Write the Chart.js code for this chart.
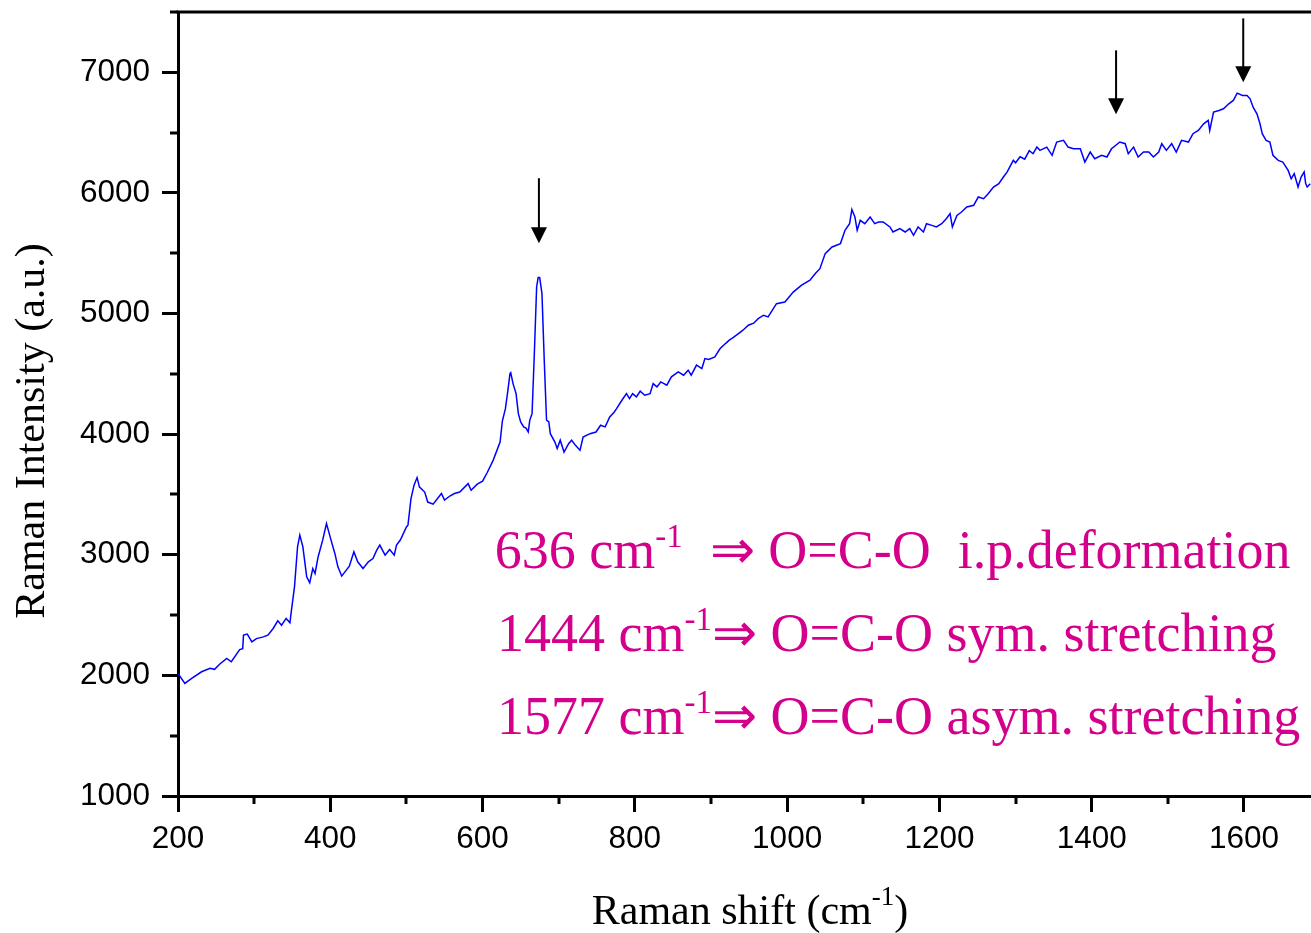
<!DOCTYPE html>
<html>
<head>
<meta charset="utf-8">
<title>Raman spectrum</title>
<style>
  html, body { margin: 0; padding: 0; background: #fff; overflow: hidden; }
  canvas { display: block; }
</style>
<script src="https://cdn.jsdelivr.net/npm/chart.js@4.4.1/dist/chart.umd.min.js"></script>
</head>
<body>
<canvas id="ramanChart" width="1311" height="933"></canvas>
<script>
// Spectrum (Raman shift in cm-1, intensity in a.u.)
const ramanShift = [
  200, 209, 218, 231, 242, 248, 255, 264, 270, 281, 285, 286, 291, 297, 303, 312, 318, 325, 331, 336,
  342, 347, 349, 353, 357, 360, 364, 369, 373, 377, 380, 384, 390, 395, 401, 406, 410, 415, 421, 425,
  431, 436, 443, 450, 456, 461, 465, 472, 478, 484, 487, 492, 500, 502, 506, 510, 514, 517, 524, 528,
  535, 546, 550, 557, 563, 570, 581, 585, 593, 600, 606, 614, 623, 626, 630, 633, 636, 637, 640, 644,
  647, 650, 654, 657, 660, 662, 665, 668, 671, 673, 675, 678, 681, 684, 687, 689, 695, 698, 702, 707,
  713, 717, 722, 728, 732, 741, 749, 755, 761, 767, 773, 776, 783, 789, 793, 797, 802, 807, 813, 820,
  824, 829, 834, 842, 848, 857, 864, 870, 874, 881, 888, 892, 897, 905, 912, 919, 924, 929, 936, 942,
  949, 956, 962, 969, 975, 986, 997, 1008, 1019, 1030, 1037, 1043, 1050, 1059, 1070, 1076, 1082, 1085, 1089, 1092,
  1096, 1102, 1109, 1115, 1120, 1126, 1135, 1139, 1148, 1155, 1161, 1166, 1172, 1179, 1183, 1190, 1196, 1203, 1209, 1214,
  1217, 1223, 1229, 1236, 1245, 1251, 1258, 1264, 1271, 1278, 1284, 1289, 1297, 1300, 1306, 1312, 1318, 1323, 1328, 1332,
  1341, 1348, 1354, 1363, 1369, 1376, 1385, 1391, 1398, 1404, 1413, 1420, 1426, 1437, 1444, 1448, 1455, 1461, 1468, 1475,
  1481, 1488, 1492, 1498, 1505, 1511, 1518, 1527, 1533, 1540, 1547, 1553, 1555, 1560, 1567, 1573, 1580, 1586, 1591, 1598,
  1604, 1608, 1612, 1617, 1621, 1624, 1629, 1634, 1638, 1645, 1651, 1658, 1662, 1666, 1671, 1675, 1679, 1681, 1683, 1687
];
const intensity = [
  2017, 1934, 1975, 2030, 2058, 2050, 2094, 2141, 2113, 2214, 2222, 2334, 2342, 2277, 2305, 2319, 2334, 2389, 2452, 2416,
  2472, 2436, 2541, 2734, 3066, 3163, 3066, 2817, 2767, 2886, 2845, 2982, 3121, 3259, 3121, 3011, 2900, 2823, 2873, 2906,
  3025, 2942, 2886, 2942, 2969, 3038, 3080, 2997, 3044, 2997, 3080, 3122, 3231, 3245, 3466, 3577, 3640, 3563, 3520, 3437,
  3420, 3508, 3453, 3487, 3508, 3520, 3590, 3535, 3585, 3610, 3680, 3785, 3934, 4109, 4211, 4350, 4502, 4510, 4419, 4336,
  4170, 4101, 4060, 4050, 4018, 4116, 4170, 4668, 5220, 5298, 5298, 5166, 4613, 4116, 4101, 4004, 3934, 3880, 3950, 3852,
  3921, 3950, 3907, 3867, 3976, 4004, 4018, 4074, 4060, 4143, 4184, 4212, 4281, 4336, 4295, 4336, 4309, 4356, 4323, 4336,
  4419, 4392, 4433, 4406, 4475, 4516, 4489, 4530, 4489, 4572, 4544, 4627, 4620, 4640, 4710, 4751, 4779, 4800, 4834, 4862,
  4903, 4920, 4958, 4986, 4972, 5082, 5095, 5178, 5235, 5276, 5331, 5372, 5497, 5552, 5580, 5690, 5745, 5862, 5800, 5690,
  5773, 5745, 5800, 5745, 5759, 5759, 5718, 5676, 5704, 5676, 5704, 5649, 5718, 5676, 5745, 5731, 5718, 5745, 5786, 5828,
  5718, 5814, 5842, 5883, 5897, 5966, 5952, 5994, 6049, 6076, 6132, 6174, 6270, 6250, 6300, 6280, 6350, 6325, 6380, 6353,
  6380, 6312, 6422, 6436, 6380, 6366, 6366, 6256, 6339, 6284, 6312, 6298, 6366, 6422, 6408, 6325, 6380, 6298, 6339, 6339,
  6298, 6339, 6408, 6353, 6408, 6339, 6436, 6422, 6491, 6518, 6573, 6601, 6518, 6670, 6684, 6698, 6739, 6767, 6827, 6808,
  6808, 6780, 6711, 6656, 6573, 6491, 6436, 6422, 6312, 6270, 6256, 6187, 6118, 6160, 6049, 6132, 6174, 6077, 6049, 6077
];

// Axis ticks
const xMajorTicks = [200, 400, 600, 800, 1000, 1200, 1400, 1600];
const xMinorTicks = [300, 500, 700, 900, 1100, 1300, 1500];
const yMajorTicks = [1000, 2000, 3000, 4000, 5000, 6000, 7000];
const yMinorTicks = [1500, 2500, 3500, 4500, 5500, 6500, 7500];

// Arrows marking the bands (x, arrow start, arrow tip)
const arrowX = [674, 1432, 1599];
const arrowFrom = [6122, 7182, 7447];
const arrowTo = [5583, 6652, 6917];

// Band assignments
const bandWavenumbers = ['636', '1444', '1577'];
const bandAssignments = ['  \u21D2 O=C-O  i.p.deformation', '\u21D2 O=C-O sym. stretching', '\u21D2 O=C-O asym. stretching'];
const bandTextX = [616, 619, 619];
const bandTextY = [2889, 2202, 1514];

const SANS = "'Liberation Sans', Arial, sans-serif";
const SERIF = "'Liberation Serif', 'Times New Roman', serif";
const MAGENTA = '#D4008C';

const decorPlugin = {
  id: 'decor',
  afterDraw(chart) {
    const { ctx, chartArea } = chart;
    const x = chart.scales.x;
    const y = chart.scales.y;
    ctx.save();

    // top frame line
    ctx.strokeStyle = '#000';
    ctx.lineWidth = 3;
    ctx.beginPath();
    ctx.moveTo(chartArea.left - 1.5, chartArea.top);
    ctx.lineTo(chartArea.right, chartArea.top);
    ctx.stroke();

    // minor ticks
    ctx.beginPath();
    xMinorTicks.forEach(v => {
      const px = Math.round(x.getPixelForValue(v));
      ctx.moveTo(px, chartArea.bottom);
      ctx.lineTo(px, chartArea.bottom + 8);
    });
    yMinorTicks.forEach(v => {
      const py = Math.round(y.getPixelForValue(v));
      ctx.moveTo(chartArea.left, py);
      ctx.lineTo(chartArea.left - 8, py);
    });
    ctx.stroke();

    // arrows
    ctx.fillStyle = '#000';
    ctx.lineWidth = 2;
    arrowX.forEach((v, i) => {
      const px = x.getPixelForValue(v);
      const top = y.getPixelForValue(arrowFrom[i]);
      const tip = y.getPixelForValue(arrowTo[i]);
      ctx.beginPath();
      ctx.moveTo(px, top);
      ctx.lineTo(px, tip - 14);
      ctx.stroke();
      ctx.beginPath();
      ctx.moveTo(px - 8, tip - 16);
      ctx.lineTo(px + 8, tip - 16);
      ctx.lineTo(px, tip);
      ctx.closePath();
      ctx.fill();
    });

    // band assignment text
    ctx.fillStyle = MAGENTA;
    ctx.textBaseline = 'alphabetic';
    ctx.textAlign = 'left';
    bandWavenumbers.forEach((num, i) => {
      let px = x.getPixelForValue(bandTextX[i]);
      const py = y.getPixelForValue(bandTextY[i]);
      ctx.font = '54px ' + SERIF;
      const main = num + ' cm';
      ctx.fillText(main, px, py);
      px += ctx.measureText(main).width;
      ctx.font = '33px ' + SERIF;
      ctx.fillText('-1', px, py - 21);
      px += ctx.measureText('-1').width;
      ctx.font = '54px ' + SERIF;
      ctx.fillText(bandAssignments[i], px, py);
    });

    // axis titles
    ctx.fillStyle = '#000';
    ctx.font = '42px ' + SERIF;
    ctx.save();
    ctx.translate(33, 431);
    ctx.rotate(-Math.PI / 2);
    ctx.textAlign = 'center';
    ctx.textBaseline = 'middle';
    ctx.fillText('Raman Intensity (a.u.)', 0, 0);
    ctx.restore();

    const part1 = 'Raman shift (cm';
    const sup = '-1';
    const part2 = ')';
    ctx.font = '42px ' + SERIF;
    const w1 = ctx.measureText(part1).width;
    const w3 = ctx.measureText(part2).width;
    ctx.font = '27px ' + SERIF;
    const w2 = ctx.measureText(sup).width;
    let tx = 750 - (w1 + w2 + w3) / 2;
    const ty = 924;
    ctx.textAlign = 'left';
    ctx.textBaseline = 'alphabetic';
    ctx.font = '42px ' + SERIF;
    ctx.fillText(part1, tx, ty);
    tx += w1;
    ctx.font = '27px ' + SERIF;
    ctx.fillText(sup, tx, ty - 19);
    tx += w2;
    ctx.font = '42px ' + SERIF;
    ctx.fillText(part2, tx, ty);

    ctx.restore();
  }
};

const ctx = document.getElementById('ramanChart').getContext('2d');
const ramanChart = new Chart(ctx, {
  type: 'line',
  data: {
    datasets: [{
      data: ramanShift.map((v, i) => ({ x: v, y: intensity[i] })),
      borderColor: '#0000FF',
      borderWidth: 1.5,
      pointRadius: 0,
      tension: 0,
      fill: false
    }]
  },
  options: {
    responsive: false,
    animation: false,
    layout: { padding: { top: 12, right: 0, left: 0, bottom: 0 } },
    plugins: {
      legend: { display: false },
      tooltip: { enabled: false }
    },
    scales: {
      x: {
        type: 'linear',
        min: 200,
        max: 1688,
        afterBuildTicks: scale => { scale.ticks = xMajorTicks.map(v => ({ value: v })); },
        afterFit: scale => {
          scale.height = 137;
          scale.paddingLeft = 0;
          scale.paddingRight = 0;
        },
        grid: { drawOnChartArea: false, drawTicks: true, tickLength: 16, tickWidth: 3, color: '#000' },
        border: { display: true, width: 3, color: '#000' },
        ticks: {
          autoSkip: false,
          maxRotation: 0,
          padding: 8,
          color: '#000',
          font: { family: SANS, size: 31.5 },
          callback: v => String(v)
        }
      },
      y: {
        type: 'linear',
        min: 1000,
        max: 7500,
        afterBuildTicks: scale => { scale.ticks = yMajorTicks.map(v => ({ value: v })); },
        afterFit: scale => {
          scale.width = 178;
          scale.paddingTop = 0;
          scale.paddingBottom = 0;
        },
        grid: { drawOnChartArea: false, drawTicks: true, tickLength: 16, tickWidth: 3, color: '#000' },
        border: { display: true, width: 3, color: '#000' },
        ticks: {
          autoSkip: false,
          padding: 12,
          color: '#000',
          font: { family: SANS, size: 31.5 },
          callback: v => String(v)
        }
      }
    }
  },
  plugins: [decorPlugin]
});
</script>
</body>
</html>
